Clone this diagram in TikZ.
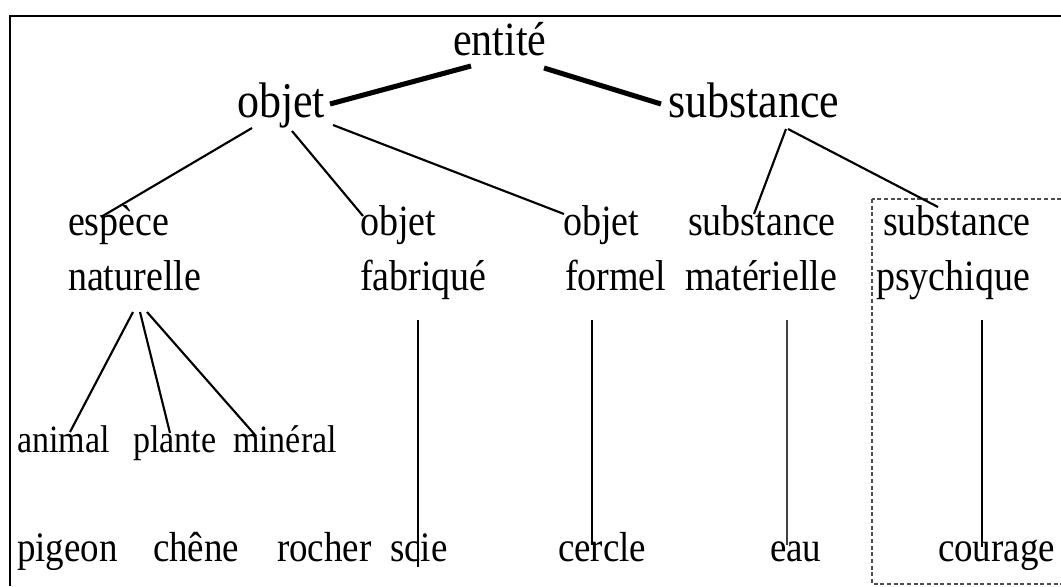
\documentclass[tikz,border=0pt]{standalone}
\usepackage{fontspec}
\setmainfont[FakeStretch=0.88]{Liberation Serif}
\usetikzlibrary{calc}
\begin{document}
\begin{tikzpicture}[x=0.75pt,y=-0.75pt,
  lbl/.style={anchor=base west,inner sep=0pt,outer sep=0pt},
  top/.style={lbl,font=\fontsize{35.8}{40}\selectfont},
  mid/.style={lbl,font=\fontsize{37.5}{42}\selectfont},
  cat/.style={lbl,font=\fontsize{32.4}{38}\selectfont},
  sub/.style={lbl,font=\fontsize{29}{34}\selectfont},
  inst/.style={lbl,font=\fontsize{31.5}{36}\selectfont},
  thick link/.style={line width=3.8pt},
  link/.style={line width=1.6pt},
  thin link/.style={line width=1.2pt,black!75},
  frame/.style={line width=2.2pt},
  group/.style={draw=black!70,line width=0.8pt,dash pattern=on 3pt off 2pt}]
\useasboundingbox (0,0) rectangle (1061,586);
\fill[white] (0,0) rectangle (1061,586);
\clip (0,0) rectangle (1061,586);
% frame
\draw[frame] (10,586) -- (10,16) -- (1065,16);
% dashed group
\draw[group] (872,199) rectangle (1075,584);
% nodes
\node[top] (entite) at (453,55) {entité};
\node[mid] (objet) at (237,117) {objet};
\node[mid] (subst) at (668,117) {substance};
\node[cat] (espece) at (68,235) {espèce};
\node[cat] (naturelle) at (68,290) {naturelle};
\node[cat] (objetA) at (360,235) {objet};
\node[cat] (fabrique) at (360,290) {fabriqué};
\node[cat] (objetB) at (563,235) {objet};
\node[cat] (formel) at (565,290) {formel};
\node[cat] (substA) at (688,235) {substance};
\node[cat] (materielle) at (685,290) {matérielle};
\node[cat] (substB) at (883,235) {substance};
\node[cat] (psychique) at (876,290) {psychique};
\node[sub] (animal) at (17,452) {animal};
\node[sub] (plante) at (133,452) {plante};
\node[sub] (mineral) at (233,452) {minéral};
\node[inst] (pigeon) at (17,561) {pigeon};
\node[inst] (chene) at (153,561) {chêne};
\node[inst] (rocher) at (277,561) {rocher};
\node[inst] (scie) at (390,561) {scie};
\node[inst] (cercle) at (558,561) {cercle};
\node[inst] (eau) at (770,561) {eau};
\node[inst] (courage) at (938,561) {courage};
% connectors
\draw[thick link] ($(objet.base west)+(93,-13)$) -- ($(entite.base west)+(18,11)$);
\draw[thick link] ($(entite.base west)+(91,13)$) -- ($(subst.base west)+(-7,-13)$);
\draw[link] ($(objet.base west)+(15,11)$) -- ($(espece.base west)+(33,-18)$);
\draw[link] ($(objet.base west)+(55,14)$) -- ($(objetA.base west)+(3,-19)$);
\draw[link] ($(objet.base west)+(96,8)$) -- ($(objetB.base west)+(1,-21)$);
\draw[link] ($(subst.base west)+(118,12)$) -- ($(substA.base west)+(66,-21)$);
\draw[link] ($(subst.base west)+(120,12)$) -- ($(substB.base west)+(55,-28)$);
\draw[link] ($(naturelle.base west)+(65,22)$) -- ($(animal.base west)+(53,-20)$);
\draw[link] ($(naturelle.base west)+(72,22)$) -- ($(plante.base west)+(37,-19)$);
\draw[link] ($(naturelle.base west)+(79,22)$) -- ($(mineral.base west)+(23,-16)$);
\draw[link] ($(fabrique.base west)+(58,30)$) -- ($(scie.base west)+(28,6)$);
\draw[link] ($(formel.base west)+(27,30)$) -- ($(cercle.base west)+(34,-16)$);
\draw[thin link] ($(materielle.base west)+(102,30)$) -- ($(eau.base west)+(17,-16)$);
\draw[link] ($(psychique.base west)+(106,30)$) -- ($(courage.base west)+(44,-14)$);
\end{tikzpicture}
\end{document}
